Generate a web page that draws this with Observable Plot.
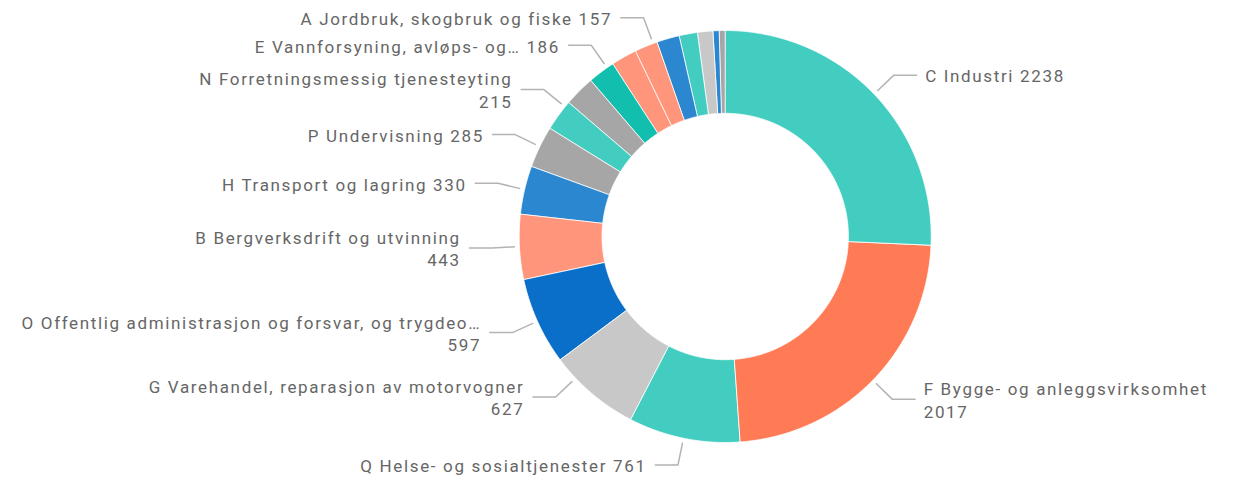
<!DOCTYPE html>
<html>
<head>
<meta charset="utf-8">
<script src="https://cdn.jsdelivr.net/npm/d3@7"></script>
<script src="https://cdn.jsdelivr.net/npm/@observablehq/plot@0.6"></script>
<style>
  html, body { margin: 0; padding: 0; background: #fff; }
  #chart svg { display: block; }
</style>
</head>
<body>
<div id="chart"></div>
<script>
// ---- data (sorted descending, clockwise from 12 o'clock) ----
const categories = [
  "C Industri",
  "F Bygge- og anleggsvirksomhet",
  "Q Helse- og sosialtjenester",
  "G Varehandel, reparasjon av motorvogner",
  "O Offentlig administrasjon og forsvar, og trygdeo…",
  "B Bergverksdrift og utvinning",
  "H Transport og lagring",
  "P Undervisning",
  "N Forretningsmessig tjenesteyting",
  "M Faglig, vitenskapelig og teknisk tjenesteyting",
  "E Vannforsyning, avløps- og…",
  "I Overnattings- og serveringsvirksomhet",
  "A Jordbruk, skogbruk og fiske",
  "J Informasjon og kommunikasjon",
  "S Annen tjenesteyting",
  "L Omsetning og drift av fast eiendom",
  "D Elektrisitets-, gass-, damp- og varmtvannsforsyning",
  "K Finansierings- og forsikringsvirksomhet"
];
const values = [2238, 2017, 761, 627, 597, 443, 330, 285, 215, 210, 186, 175, 157, 155, 125, 105, 42, 38];
const sliceColors = [
  "#42CDC0", "#FF7B56", "#42CDC0", "#C8C8C8", "#0A6FC8", "#FF957A",
  "#2B87CF", "#A6A6A6", "#42CDC0", "#A6A6A6", "#12BFAE", "#FF957A",
  "#FF957A", "#2B87CF", "#42CDC0", "#C8C8C8", "#2B87CF", "#A6A6A6"
];
const showLabel =      [1,1,1,1,1,1,1,1,1,0,1,0,1,0,0,0,0,0];
const valueOnNewLine = [0,1,0,1,1,1,0,0,1,0,0,0,0,0,0,0,0,0];
// small leader-line angle adjustments (degrees) as placed by the original label layout
const leaderNudge =    [0,0,0,6.2,0,0,0,0,2.8,0,1.8,0,2.0,0,0,0,0,0];

// ---- layout ----
const W = 1242, H = 477;
const layout = {cx: 724.7, cy: 236, R: 206};
const INNER = 0.598, START = 1.025, ELBOW = 1.133, RUN = 0.11, GAP = 0.042;

const total = d3.sum(values);
let acc = 0;
const slices = categories.map((c, i) => {
  const a0 = acc / total * 360; acc += values[i];
  const a1 = acc / total * 360;
  return {cat: c, value: values[i], a0, a1, i};
});
const rad = d => d * Math.PI / 180;
const pt = (r, a) => [r * Math.sin(rad(a)), r * Math.cos(rad(a))];

const features = slices.map(s => {
  const n = Math.max(2, Math.ceil((s.a1 - s.a0) / 0.4));
  const outer = d3.range(n + 1).map(k => pt(1, s.a0 + (s.a1 - s.a0) * k / n));
  const inner = d3.range(n + 1).map(k => pt(INNER, s.a1 - (s.a1 - s.a0) * k / n));
  return {type: "Feature", properties: {cat: s.cat},
    geometry: {type: "Polygon", coordinates: [[...outer, ...inner, outer[0]]]}};
});

const labels = slices.filter(s => showLabel[s.i]).map(s => {
  const a = (s.a0 + s.a1) / 2 + leaderNudge[s.i];
  const p0 = pt(START, a), p1 = pt(ELBOW, a);
  const side = Math.sin(rad(a)) >= 0 ? 1 : -1;
  const p2 = [p1[0] + side * RUN, p1[1]];
  return {cat: s.cat, p0, p1, p2, side,
    tx: p2[0] + side * GAP, ty: p1[1],
    text: s.cat + (valueOnNewLine[s.i] ? "\n" : " ") + s.value};
});
const leaderPts = labels.flatMap(l => [l.p0, l.p1, l.p2].map(p => ({cat: l.cat, x: p[0], y: p[1]})));

const domainBox = {type: "MultiPoint", coordinates: [
  [-layout.cx / layout.R, -(H - layout.cy) / layout.R],
  [(W - layout.cx) / layout.R, layout.cy / layout.R]
]};

const textStyle = {fill: "#666666", fontSize: 17, fontWeight: 400, lineHeight: 1.33, lineAnchor: "middle"};

const chart = Plot.plot({
  width: W, height: H,
  margin: 0,
  projection: {type: "reflect-y", domain: domainBox},
  color: {domain: categories, range: sliceColors},
  style: {fontFamily: "Roboto, 'DejaVu Sans', sans-serif", letterSpacing: "1.65px", background: "#fff"},
  marks: [
    Plot.geo(features, {fill: d => d.properties.cat, stroke: "white", strokeWidth: 0.8}),
    Plot.line(leaderPts, {x: "x", y: "y", z: "cat", stroke: "#b3b3b3", strokeWidth: 1.5}),
    Plot.text(labels.filter(l => l.side < 0), {x: "tx", y: "ty", text: "text", textAnchor: "end", ...textStyle}),
    Plot.text(labels.filter(l => l.side > 0), {x: "tx", y: "ty", text: "text", textAnchor: "start", ...textStyle})
  ]
});
document.getElementById("chart").appendChild(chart);
</script>
</body>
</html>
